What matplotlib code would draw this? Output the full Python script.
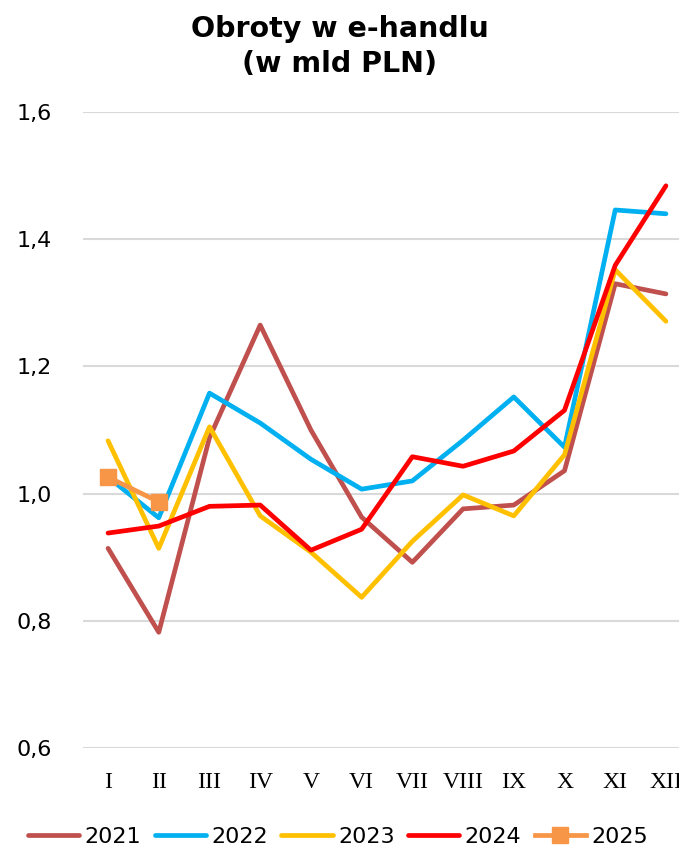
import numpy as np
import matplotlib.pyplot as plt
from matplotlib.ticker import FuncFormatter

months = ["I", "II", "III", "IV", "V", "VI", "VII", "VIII", "IX", "X", "XI", "XII"]
y2021 = [0.914, 0.782, 1.088, 1.265, 1.100, 0.963, 0.892, 0.976, 0.982, 1.036, 1.330, 1.314]
y2022 = [1.026, 0.962, 1.158, 1.111, 1.054, 1.007, 1.020, 1.084, 1.152, 1.073, 1.446, 1.440]
y2023 = [1.083, 0.914, 1.105, 0.965, 0.908, 0.837, 0.925, 0.998, 0.965, 1.061, 1.352, 1.271]
y2024 = [0.938, 0.949, 0.980, 0.982, 0.911, 0.944, 1.058, 1.043, 1.067, 1.131, 1.359, 1.484]
y2025 = [1.026, 0.987]

fig = plt.figure(figsize=(6.79, 8.48), dpi=100)
ax = fig.add_axes([0.1218, 0.1179, 0.8963, 0.750])

x = np.arange(len(months))
lw = 3.4
ax.plot(x, y2021, color="#C0504D", lw=lw, label="2021", solid_capstyle="round")
ax.plot(x, y2022, color="#00B0F0", lw=lw, label="2022", solid_capstyle="round")
ax.plot(x, y2023, color="#FFC000", lw=lw, label="2023", solid_capstyle="round")
ax.plot(x, y2024, color="#FF0000", lw=lw, label="2024", solid_capstyle="round")
ax.plot(x[:2], y2025, color="#F79646", lw=lw, marker="s", markersize=11, label="2025")

ax.set_xlim(-0.5, 11.5)
ax.set_ylim(0.6, 1.6)
ax.set_yticks([0.6, 0.8, 1.0, 1.2, 1.4, 1.6])
ax.yaxis.set_major_formatter(FuncFormatter(lambda v, p: f"{v:.1f}".replace(".", ",")))
ax.set_xticks(x)
ax.set_xticklabels(months, fontfamily="Liberation Serif", fontsize=17)
ax.tick_params(axis="y", labelsize=16, length=0, pad=22)
ax.tick_params(axis="x", length=0, pad=17)
ax.grid(axis="y", color="#D9D9D9", lw=1.5)
ax.set_axisbelow(True)
for s in ax.spines.values():
    s.set_visible(False)

fig.suptitle("Obroty w e-handlu\n(w mld PLN)", fontsize=20.5, fontweight="bold", y=0.982, linespacing=1.3)

fig.legend(loc="lower left", bbox_to_anchor=(0.012, -0.022), ncol=5, frameon=False, fontsize=16,
           handlelength=2.3, handletextpad=0.25, columnspacing=0.6)

fig.savefig("out.png", dpi=100)
